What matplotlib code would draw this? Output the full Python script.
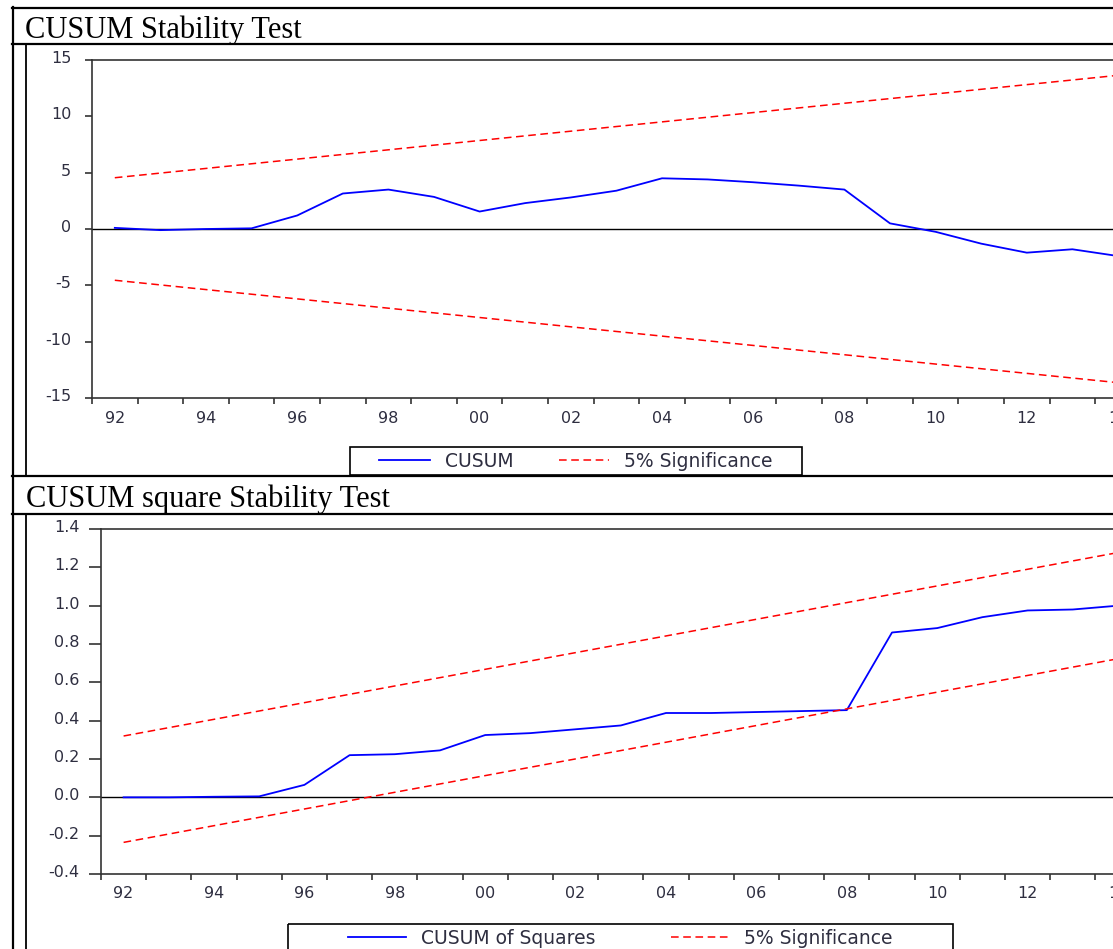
import matplotlib
matplotlib.use("Agg")
import matplotlib.pyplot as plt
import matplotlib.transforms as mtransforms
from matplotlib.patches import Rectangle

# Data (annual, 1992-2014)
years = list(range(1992, 2015))
cusum = [0.1, -0.1, 0.0, 0.06, 1.2, 3.15, 3.5, 2.85, 1.55, 2.3, 2.8, 3.4,
         4.5, 4.4, 4.15, 3.85, 3.5, 0.5, -0.25, -1.3, -2.1, -1.8, -2.4]
cusum_sq = [0.0, 0.0, 0.003, 0.005, 0.065, 0.22, 0.225, 0.245, 0.325, 0.335,
            0.355, 0.375, 0.44, 0.44, 0.445, 0.45, 0.455, 0.86, 0.883, 0.94,
            0.975, 0.98, 1.0]

# 5% significance bounds (straight lines between first and last year)
bound_years = [1992, 2014]
cusum_upper = [4.55, 13.64]
cusum_lower = [-4.55, -13.64]
sq_upper = [0.32, 1.277]
sq_lower = [-0.235, 0.723]

year_labels = [y for y in years if y % 2 == 0]
cusum_yticks = [15, 10, 5, 0, -5, -10, -15]
sq_yticks = [1.4, 1.2, 1.0, 0.8, 0.6, 0.4, 0.2, 0.0, -0.2, -0.4]

W, H = 1113, 949
fig = plt.figure(figsize=(W / 100, H / 100), dpi=100)


def rect(left, top, right, bottom):
    return [left / W, 1 - bottom / H, (right - left) / W, (bottom - top) / H]


tick_color = "#2e2e40"
spine_color = "#333333"
up = mtransforms.ScaledTranslation(0, 3 / 100, fig.dpi_scale_trans)


def style_axis(ax, yticks, ylim, ylen, ypad, xpad, fmt):
    ax.set_xlim(1991.5, 2014.5)
    ax.set_ylim(*ylim)
    for s in ax.spines.values():
        s.set_color(spine_color)
        s.set_linewidth(1.2)
    ax.axhline(0, color="black", lw=1.0, zorder=1)
    # ticks at year boundaries, labels at even years
    ax.set_xticks([y - 0.5 for y in years] + [2014.5])
    ax.set_xticklabels([])
    ax.set_xticks(year_labels, minor=True)
    ax.set_xticklabels(["%02d" % (y % 100) for y in year_labels], minor=True)
    ax.tick_params(axis="x", which="major", direction="out", length=4.5,
                   width=1.2, color=spine_color)
    ax.tick_params(axis="x", which="minor", length=0, pad=xpad,
                   labelsize=11.5, labelcolor=tick_color)
    ax.set_yticks(yticks)
    ax.set_yticklabels([fmt % v for v in yticks])
    ax.tick_params(axis="y", direction="out", length=ylen, width=1.2,
                   color=spine_color, pad=ypad, labelsize=11.5,
                   labelcolor=tick_color)
    for lab in ax.get_yticklabels():
        lab.set_transform(lab.get_transform() + up)


# Top chart: CUSUM
ax1 = fig.add_axes(rect(92, 60, 92 + 23 * 45.6, 398))
l1, = ax1.plot(years, cusum, color="#0000ff", lw=1.3, zorder=3)
d1, = ax1.plot(bound_years, cusum_upper, color="#ff0000", lw=1.1,
               dashes=(5, 3), zorder=3)
ax1.plot(bound_years, cusum_lower, color="#ff0000", lw=1.1,
         dashes=(5, 3), zorder=3)
style_axis(ax1, cusum_yticks, (-15, 15), 5, 10, 9.5, "%d")

# Bottom chart: CUSUM of squares
ax2 = fig.add_axes(rect(101, 529, 101 + 23 * 45.2, 874))
l2, = ax2.plot(years, cusum_sq, color="#0000ff", lw=1.3, zorder=3)
d2, = ax2.plot(bound_years, sq_upper, color="#ff0000", lw=1.1,
               dashes=(5, 3), zorder=3)
ax2.plot(bound_years, sq_lower, color="#ff0000", lw=1.1,
         dashes=(5, 3), zorder=3)
style_axis(ax2, sq_yticks, (-0.4, 1.4), 8.5, 7, 9, "%.1f")

# overlay in pixel coordinates for the table frame and titles
bg = fig.add_axes([0, 0, 1, 1], zorder=5)
bg.set_xlim(0, W)
bg.set_ylim(H, 0)
bg.axis("off")
bg.patch.set_alpha(0)

for y in [7.5, 44.3, 475.8, 513.8]:
    bg.plot([12, W], [y, y], color="black", lw=1.6)
bg.plot([13, 13], [7, H], color="black", lw=1.6)
bg.plot([26, 26], [44, 475], color="black", lw=1.3)
bg.plot([26, 26], [514, H], color="black", lw=1.3)

bg.text(25, 37.5, "CUSUM Stability Test", family="Liberation Serif",
        fontsize=22, va="baseline", ha="left")
bg.text(26, 506.5, "CUSUM square Stability Test", family="Liberation Serif",
        fontsize=22, va="baseline", ha="left")

# legends
bg.add_patch(Rectangle((350, 447), 452, 27.5, fill=False, ec="black", lw=1.2))
bg.add_patch(Rectangle((288, 924), 665, 30, fill=False, ec="black", lw=1.2))

leg_kw = dict(loc="center", ncol=2, frameon=False, fontsize=13.5,
              handletextpad=0.8, borderpad=0.1, bbox_transform=bg.transData,
              labelcolor=tick_color)
leg1 = ax1.legend([l1, d1], ["CUSUM", "5% Significance"],
                  bbox_to_anchor=(576, 461), handlelength=2.7,
                  columnspacing=2.4, **leg_kw)
leg2 = ax2.legend([l2, d2], ["CUSUM of Squares", "5% Significance"],
                  bbox_to_anchor=(620, 938), handlelength=3.1,
                  columnspacing=4.0, **leg_kw)

fig.savefig("out.png", dpi=100)
